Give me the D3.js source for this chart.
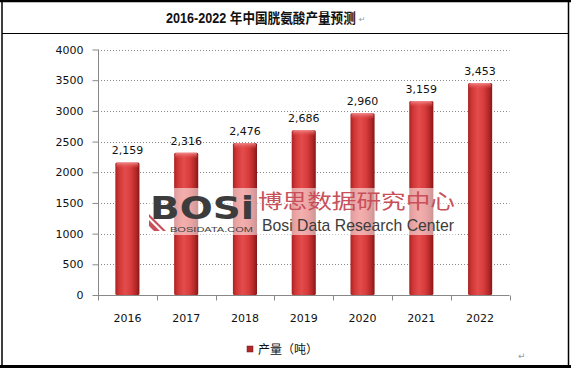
<!DOCTYPE html>
<html><head><meta charset="utf-8">
<script src="https://cdn.jsdelivr.net/npm/d3@7"></script>
<style>html,body{margin:0;padding:0;background:#fff;}svg{display:block;}</style>
</head><body>
<script>
const categories = ["2016","2017","2018","2019","2020","2021","2022"];
const values = [2159,2316,2476,2686,2960,3159,3453];
const valueLabels = ["2,159","2,316","2,476","2,686","2,960","3,159","3,453"];
const yTicks = [0,500,1000,1500,2000,2500,3000,3500,4000];
const title = "2016-2022 年中国胱氨酸产量预测";
const seriesName = "产量（吨）";

const W = 571, H = 368;
const svg = d3.select("body").append("svg").attr("width", W).attr("height", H);
const defs = svg.append("defs");
const g1 = defs.append("linearGradient").attr("id","barg").attr("x1","0").attr("x2","1").attr("y1","0").attr("y2","0");
[["0%","#a82222"],["15%","#d03636"],["40%","#e44c4c"],["65%","#d83c3c"],["87%","#b02626"],["100%","#851717"]]
  .forEach(([o,c])=>g1.append("stop").attr("offset",o).attr("stop-color",c));
const g2 = defs.append("linearGradient").attr("id","capg").attr("x1","0").attr("x2","0").attr("y1","0").attr("y2","1");
g2.append("stop").attr("offset","0%").attr("stop-color","#f49090").attr("stop-opacity",0.9);
g2.append("stop").attr("offset","100%").attr("stop-color","#e04848").attr("stop-opacity",0);

// frame
svg.append("rect").attr("x",2).attr("y",1).attr("width",566.5).attr("height",365).attr("fill","none").attr("stroke","#000").attr("stroke-width",1.5);
svg.append("line").attr("x1",0).attr("x2",571).attr("y1",1).attr("y2",1).attr("stroke","#000").attr("stroke-width",2.5);
svg.append("line").attr("x1",0).attr("x2",571).attr("y1",366.5).attr("y2",366.5).attr("stroke","#000").attr("stroke-width",3);
svg.append("line").attr("x1",2).attr("x2",568).attr("y1",33.5).attr("y2",33.5).attr("stroke","#000").attr("stroke-width",1.2);

// title (measured, then squeezed horizontally to the reference width)
const tg = svg.append("g");
const tt = tg.append("text").attr("x",0).attr("y",23)
  .attr("font-family","'Liberation Sans','Noto Sans CJK SC',sans-serif").attr("font-weight","bold")
  .attr("font-size",14).attr("fill","#111").text(title);
const tw = tt.node().getComputedTextLength();
const sx = 190 / tw;
tg.attr("transform","translate(166,0) scale("+sx+",1)");
svg.append("text").attr("x",359).attr("y",22).attr("font-family","'DejaVu Sans',sans-serif").attr("font-size",8).attr("fill","#999").text("↵");
svg.append("text").attr("x",518).attr("y",359).attr("font-family","'DejaVu Sans',sans-serif").attr("font-size",9).attr("fill","#999").text("↵");

const x = d3.scaleBand().domain(categories).range([98,509.5]).paddingInner(0.59).paddingOuter(0.295);
const xb = d3.scaleBand().domain(categories).range([98,509.5]);
const y = d3.scaleLinear().domain([0,4000]).range([295,49.5]);

// gridlines
svg.append("g").selectAll("line").data(yTicks.filter(d=>d>0)).join("line")
  .attr("x1",98).attr("x2",509.5).attr("y1",d=>Math.round(y(d))+0.5).attr("y2",d=>Math.round(y(d))+0.5)
  .attr("stroke","#888").attr("stroke-width",1).attr("stroke-dasharray","1,2");

// y axis
const ya = svg.append("g").attr("transform","translate(98.5,0)")
  .call(d3.axisLeft(y).tickValues(yTicks).tickSize(6).tickPadding(9).tickFormat(d3.format("d")));
ya.select(".domain").attr("stroke","#888").attr("d","M0,"+y(4000)+"V"+(y(0)+0.5));
ya.selectAll(".tick line").attr("stroke","#888");
ya.selectAll("text").attr("font-family","'DejaVu Sans',sans-serif").attr("font-size",11).attr("fill","#111");

// x axis
const xa = svg.append("g").attr("transform","translate(0,295.5)");
xa.append("line").attr("x1",98).attr("x2",509.5).attr("y1",0).attr("y2",0).attr("stroke","#888");
xa.selectAll("line.tk").data(categories.concat(["end"])).join("line").attr("class","tk")
  .attr("x1",(d,i)=>Math.round(98+i*xb.bandwidth())+0.5).attr("x2",(d,i)=>Math.round(98+i*xb.bandwidth())+0.5)
  .attr("y1",0).attr("y2",5).attr("stroke","#888");
xa.selectAll("text").data(categories).join("text")
  .attr("x",d=>xb(d)+xb.bandwidth()/2).attr("y",26).attr("text-anchor","middle")
  .attr("font-family","'DejaVu Sans',sans-serif").attr("font-size",11).attr("fill","#111").text(d=>d);

// bars
const bars = svg.append("g");
categories.forEach((c,i)=>{
  const bx = x(c), bw = x.bandwidth(), top = y(values[i]);
  bars.append("rect").attr("x",bx).attr("y",top).attr("width",bw).attr("height",y(0)-top)
    .attr("fill","url(#barg)").attr("rx",1.5);
  bars.append("rect").attr("x",bx+1).attr("y",top).attr("width",bw-2).attr("height",6)
    .attr("fill","url(#capg)").attr("rx",2);
  bars.append("text").attr("x",bx+bw/2).attr("y",top-8).attr("text-anchor","middle")
    .attr("font-family","'DejaVu Sans',sans-serif").attr("font-size",11).attr("fill","#111").text(valueLabels[i]);
});

// watermark
const wm = svg.append("g");
wm.append("rect").attr("x",148).attr("y",188).attr("width",310).attr("height",47).attr("fill","#fff").attr("opacity",0.55);
wm.append("text").attr("x",150).attr("y",219).attr("font-family","'DejaVu Sans',sans-serif").attr("font-weight","bold")
  .attr("font-size",32).attr("fill","#3c3c3c").attr("textLength",104).attr("lengthAdjust","spacingAndGlyphs").text("BOSi");
wm.append("path").attr("d","M149,220 L160,231 L154,231 L149,226 Z M149,214 L166,231 L163,231 L149,217 Z").attr("fill","#c8505a");
wm.append("text").attr("x",170).attr("y",232).attr("font-family","'Liberation Sans',sans-serif").attr("font-size",6.5)
  .attr("fill","#3c3c3c").attr("textLength",83).attr("lengthAdjust","spacingAndGlyphs").text("BOSIDATA.COM");
wm.append("text").attr("x",258).attr("y",209).attr("font-family","'Noto Sans CJK SC',sans-serif").attr("font-size",20)
  .attr("fill","#c8505a").attr("textLength",197).attr("lengthAdjust","spacingAndGlyphs").text("博思数据研究中心");
wm.append("text").attr("x",262).attr("y",231).attr("font-family","'Liberation Sans Narrow','Liberation Sans',sans-serif").attr("font-size",17)
  .attr("fill","#3c3c3c").attr("textLength",192).attr("lengthAdjust","spacingAndGlyphs").text("Bosi Data Research Center");

// legend
svg.append("rect").attr("x",247).attr("y",346).attr("width",6).attr("height",6).attr("fill","#b02828").attr("stroke","#7a1515").attr("stroke-width",0.5);
svg.append("text").attr("x",258).attr("y",354).attr("font-family","'Noto Sans CJK SC',sans-serif").attr("font-size",12).attr("fill","#111").text(seriesName);
</script>
</body></html>
